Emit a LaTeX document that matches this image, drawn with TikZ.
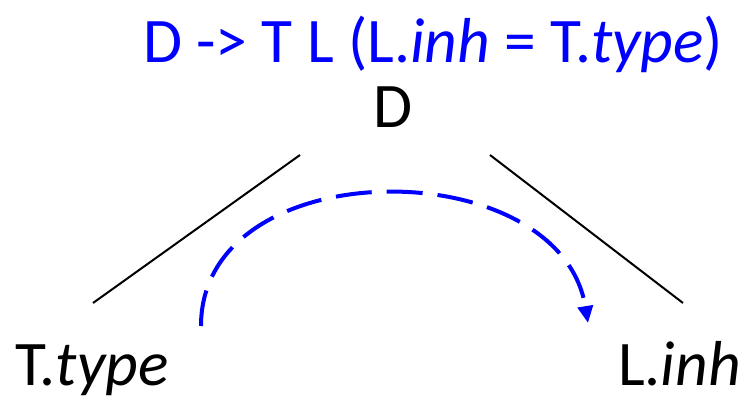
\documentclass[tikz,border=0pt]{standalone}
\usepackage{fontspec}
\setmainfont{Carlito}
\usetikzlibrary{arrows.meta}
\definecolor{ruleblue}{RGB}{0,0,255}
\begin{document}
\begin{tikzpicture}[x=1pt,y=-1pt,
  big/.style={font=\fontsize{63.5}{70}\selectfont, inner sep=0pt, anchor=base},
  edge/.style={line width=2pt, black},
  flow/.style={ruleblue, line width=4pt, dash pattern=on 36pt off 15pt,
    -{Triangle[length=17pt,width=15pt]}}]
\useasboundingbox (0,0) rectangle (744,402);
\node[big, text=ruleblue] (rule) at (433,62) {D -> T L (L.\textit{inh} = T.\textit{type})};
\node[big] (D) at (393,127) {D};
\node[big, anchor=base west] (T) at (15,385) {T.\textit{type}};
\node[big, anchor=base east] (L) at (741,385) {L.\textit{inh}};
\coordinate (dl) at (300,155);
\coordinate (dr) at (490,155);
\coordinate (tl) at (93,303);
\coordinate (lr) at (683,303);
\coordinate (fs) at (201,326);
\coordinate (fe) at (588,323);
\draw[edge] (dl) -- (tl);
\draw[edge] (dr) -- (lr);
\draw[flow] (fs) .. controls (201,150) and (560,150) .. (fe);
\end{tikzpicture}
\end{document}
